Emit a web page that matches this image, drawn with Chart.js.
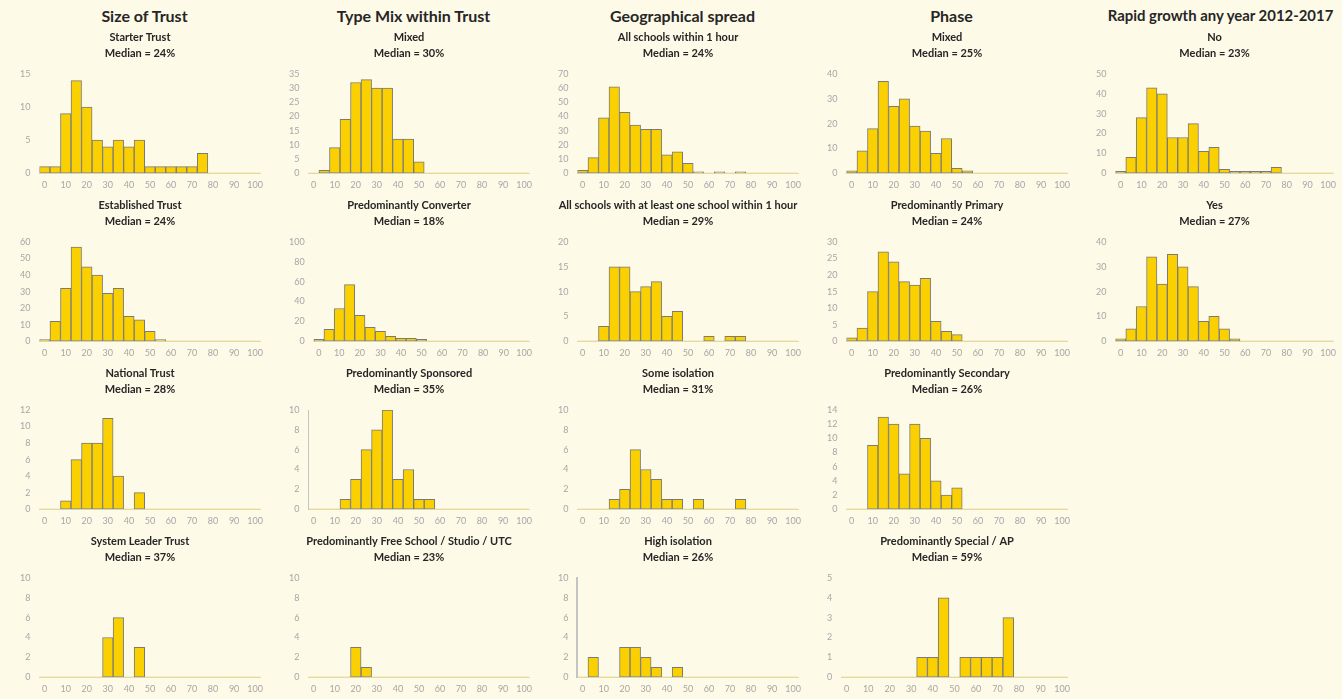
<!DOCTYPE html>
<html>
<head>
<meta charset="utf-8">
<script src="https://cdn.jsdelivr.net/npm/chart.js@4"></script>
<style>
  body { margin: 0; background: #fefae8; font-family: Lato, "Open Sans", sans-serif; }
  #wrap { position: relative; width: 1342px; height: 699px; overflow: hidden; }
  .group { position: absolute; top: 6px; width: 269px; text-align: center; font-size: 16px; font-weight: bold; color: #262626; white-space: nowrap; }
  canvas { position: absolute; }
</style>
</head>
<body>
<div id="wrap"></div>
<script>
// bin centres (percent), 5 point bins
const binCenters = [0, 5, 10, 15, 20, 25, 30, 35, 40, 45, 50, 55, 60, 65, 70, 75, 80, 85, 90, 95, 100];

const groupTitles = ["Size of Trust", "Type Mix within Trust", "Geographical spread", "Phase", "Rapid growth any year 2012-2017"];

// counts per bin
const starterTrust      = [1, 1, 9, 14, 10, 5, 4, 5, 4, 5, 1, 1, 1, 1, 1, 3, 0, 0, 0, 0, 0];
const establishedTrust  = [1, 12, 32, 57, 45, 40, 29, 32, 15, 13, 6, 1, 0, 0, 0, 0, 0, 0, 0, 0, 0];
const nationalTrust     = [0, 0, 1, 6, 8, 8, 11, 4, 0, 2, 0, 0, 0, 0, 0, 0, 0, 0, 0, 0, 0];
const systemLeaderTrust = [0, 0, 0, 0, 0, 0, 4, 6, 0, 3, 0, 0, 0, 0, 0, 0, 0, 0, 0, 0, 0];

const mixedType   = [0, 1, 9, 19, 32, 33, 30, 30, 12, 12, 4, 0, 0, 0, 0, 0, 0, 0, 0, 0, 0];
const converter   = [2, 12, 33, 57, 26, 14, 10, 5, 3, 3, 2, 0, 0, 0, 0, 0, 0, 0, 0, 0, 0];
const sponsored   = [0, 0, 0, 1, 3, 6, 8, 10, 3, 4, 1, 1, 0, 0, 0, 0, 0, 0, 0, 0, 0];
const freeSchool  = [0, 0, 0, 0, 3, 1, 0, 0, 0, 0, 0, 0, 0, 0, 0, 0, 0, 0, 0, 0, 0];

const within1Hour   = [2, 11, 39, 61, 43, 34, 31, 31, 13, 15, 7, 1, 0, 1, 0, 1, 0, 0, 0, 0, 0];
const atLeastOne    = [0, 0, 3, 15, 15, 10, 11, 12, 5, 6, 0, 0, 1, 0, 1, 1, 0, 0, 0, 0, 0];
const someIsolation = [0, 0, 0, 1, 2, 6, 4, 3, 1, 1, 0, 1, 0, 0, 0, 1, 0, 0, 0, 0, 0];
const highIsolation = [0, 2, 0, 0, 3, 3, 2, 1, 0, 1, 0, 0, 0, 0, 0, 0, 0, 0, 0, 0, 0];

const phaseMixed = [1, 9, 18, 37, 27, 30, 19, 17, 8, 14, 2, 1, 0, 0, 0, 0, 0, 0, 0, 0, 0];
const primary    = [1, 4, 15, 27, 24, 18, 17, 19, 6, 3, 2, 0, 0, 0, 0, 0, 0, 0, 0, 0, 0];
const secondary  = [0, 0, 9, 13, 12, 5, 12, 10, 4, 2, 3, 0, 0, 0, 0, 0, 0, 0, 0, 0, 0];
const specialAP  = [0, 0, 0, 0, 0, 0, 0, 1, 1, 4, 0, 1, 1, 1, 1, 3, 0, 0, 0, 0, 0];

const growthNo  = [1, 8, 28, 43, 40, 18, 18, 25, 11, 13, 2, 1, 1, 1, 1, 3, 0, 0, 0, 0, 0];
const growthYes = [1, 5, 14, 34, 23, 35, 30, 22, 8, 10, 5, 1, 0, 0, 0, 0, 0, 0, 0, 0, 0];

// panel list: column, row, subtitle, median, counts, y max, y step, y axis line width
const panels = [
    [0, 0, "Starter Trust", 24, starterTrust, 15, 5, 0],
    [0, 1, "Established Trust", 24, establishedTrust, 60, 10, 0],
    [0, 2, "National Trust", 28, nationalTrust, 12, 2, 0],
    [0, 3, "System Leader Trust", 37, systemLeaderTrust, 10, 2, 0],
    [1, 0, "Mixed", 30, mixedType, 35, 5, 0],
    [1, 1, "Predominantly Converter", 18, converter, 100, 20, 0],
    [1, 2, "Predominantly Sponsored", 35, sponsored, 10, 2, 1],
    [1, 3, "Predominantly Free School / Studio / UTC", 23, freeSchool, 10, 2, 0],
    [2, 0, "All schools within 1 hour", 24, within1Hour, 70, 10, 0],
    [2, 1, "All schools with at least one school within 1 hour", 29, atLeastOne, 20, 5, 0],
    [2, 2, "Some isolation", 31, someIsolation, 10, 2, 0],
    [2, 3, "High isolation", 26, highIsolation, 10, 2, 2],
    [3, 0, "Mixed", 25, phaseMixed, 40, 10, 0],
    [3, 1, "Predominantly Primary", 24, primary, 30, 5, 0],
    [3, 2, "Predominantly Secondary", 26, secondary, 14, 2, 0],
    [3, 3, "Predominantly Special / AP", 59, specialAP, 5, 1, 0],
    [4, 0, "No", 23, growthNo, 50, 10, 0],
    [4, 1, "Yes", 27, growthYes, 40, 10, 0]
];

const colW = 269;
const rowH = 168;
const topOffset = 28;
const wrap = document.getElementById("wrap");

Chart.defaults.font.family = 'Lato, "Open Sans", sans-serif';

// group headings, shrunk if they would not fit in their column
var measure = document.createElement("canvas").getContext("2d");
groupTitles.forEach(function (t, i) {
    var d = document.createElement("div");
    d.className = "group";
    d.style.left = (i * colW + 10) + "px";
    measure.font = 'bold 16px Lato, "Open Sans", sans-serif';
    var w = measure.measureText(t).width;
    if (w > 226) {
        d.style.fontSize = (16 * 226 / w).toFixed(1) + "px";
    }
    d.textContent = t;
    wrap.appendChild(d);
});

panels.forEach(function (p) {
    var canvas = document.createElement("canvas");
    canvas.width = p[0] == 4 ? 1342 - 4 * colW : colW;
    canvas.height = rowH;
    canvas.style.left = (p[0] * colW) + "px";
    canvas.style.top = (topOffset + p[1] * rowH) + "px";
    wrap.appendChild(canvas);

    new Chart(canvas.getContext("2d"), {
        type: 'bar',
        data: {
            labels: binCenters,
            datasets: [{
                data: p[4],
                backgroundColor: '#fad000',
                borderColor: '#7a7a7a',
                borderWidth: function (ctx) { return ctx.raw ? 1 : 0; },
                borderSkipped: false,
                barPercentage: 1,
                categoryPercentage: 1
            }]
        },
        options: {
            responsive: false,
            animation: false,
            events: [],
            layout: { padding: { left: 11, right: 0, top: 0, bottom: 0 } },
            plugins: {
                legend: { display: false },
                tooltip: { enabled: false },
                title: {
                    display: true,
                    text: [p[2], "Median = " + p[3] + "%"],
                    color: '#262626',
                    font: { size: 11, weight: 'bold', lineHeight: 1.5 },
                    padding: { top: 1, bottom: 12 }
                }
            },
            scales: {
                x: {
                    grid: { display: false, drawTicks: false },
                    border: { color: '#d9d9d9' },
                    ticks: {
                        color: '#a6a6a6',
                        font: { size: 9 },
                        autoSkip: false,
                        maxRotation: 0,
                        padding: 6,
                        callback: function (val, idx) {
                            return idx % 2 === 0 ? this.getLabelForValue(val) : '';
                        }
                    }
                },
                y: {
                    min: 0,
                    max: p[5],
                    grid: { display: false, drawTicks: false },
                    border: { display: p[7] > 0, color: '#c4c4c4', width: p[7] || 1 },
                    ticks: { stepSize: p[6], autoSkip: false, maxTicksLimit: 30, color: '#a6a6a6', font: { size: 9 }, padding: 9 }
                }
            }
        }
    });
});
</script>
</body>
</html>
